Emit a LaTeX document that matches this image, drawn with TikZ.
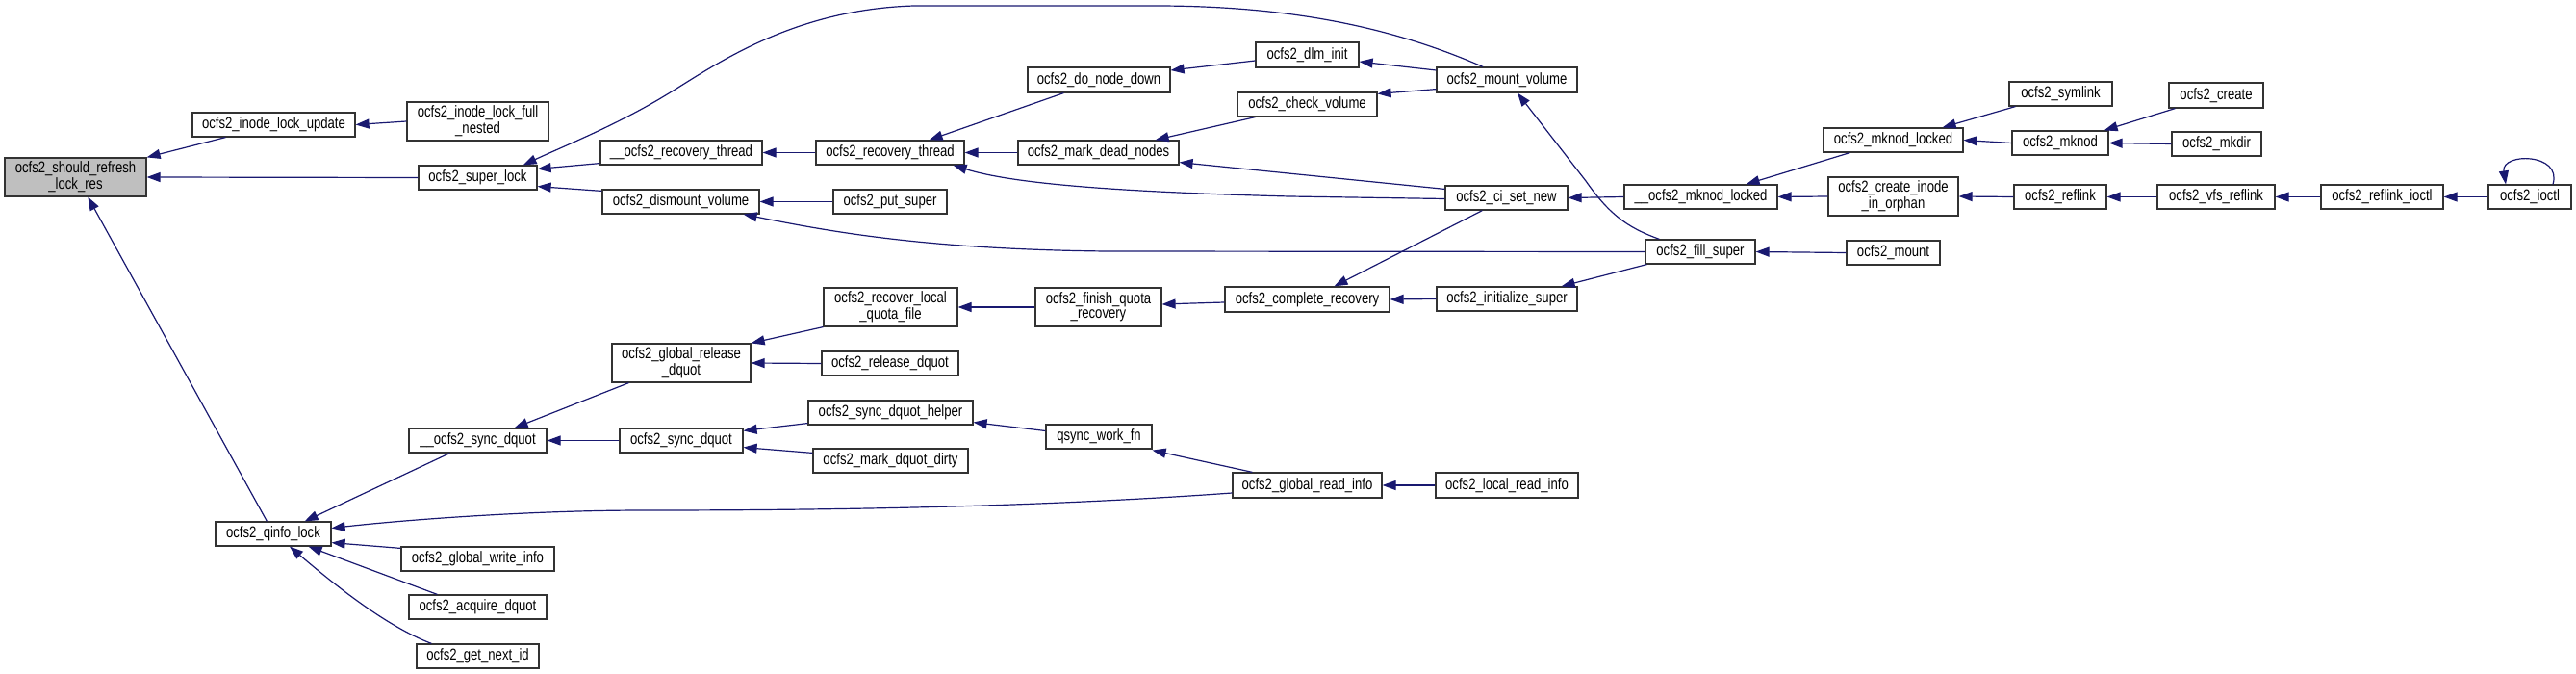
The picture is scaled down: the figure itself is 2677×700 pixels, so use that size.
\documentclass[tikz,border=0pt]{standalone}
\usepackage{fontspec}
\newfontfamily\dfont{Liberation Sans}[FakeStretch=0.8]
\usetikzlibrary{arrows.meta,calc}
\definecolor{edgeblue}{RGB}{25,25,112}
\definecolor{nodegray}{RGB}{191,191,191}
\newcommand\dn[7][]{\node[dbox,#1,minimum width={(#5-#3)*0.5pt},minimum height={(#6-#4)*0.5pt}] (#2) at ({(#3+#5)/2},{(#4+#6)/2}) {#7};}
\tikzset{
  dbox/.style={draw=black!80,line width=0.6pt,fill=white,inner sep=1pt,align=center,
    font=\dfont\fontsize{8.2}{7.5}\selectfont},
  cedge/.style={draw=edgeblue,line width=0.6pt,-{Triangle[length=7pt,width=5pt]}},
}
\begin{document}
\begin{tikzpicture}[x=0.5pt,y=-0.5pt]
\useasboundingbox (0,0) rectangle (2677,700);
% nodes
\dn[fill=nodegray]{shouldref}{5}{164}{152}{204}{ocfs2\_should\_refresh\\\_lock\_res}
\dn{inodeupd}{200}{117}{369}{142}{ocfs2\_inode\_lock\_update}
\dn{fullnested}{423}{106}{570}{146}{ocfs2\_inode\_lock\_full\\\_nested}
\dn{superlock}{435}{172}{558}{197}{ocfs2\_super\_lock}
\dn{urecthread}{624}{146}{792}{171}{\_\_ocfs2\_recovery\_thread}
\dn{dismount}{626}{197}{789}{222}{ocfs2\_dismount\_volume}
\dn{putsuper}{866}{197}{984}{222}{ocfs2\_put\_super}
\dn{recthread}{848}{146}{1002}{171}{ocfs2\_recovery\_thread}
\dn{donodedown}{1068}{70}{1216}{96}{ocfs2\_do\_node\_down}
\dn{markdead}{1058}{146}{1225}{171}{ocfs2\_mark\_dead\_nodes}
\dn{dlminit}{1305}{44}{1412}{70}{ocfs2\_dlm\_init}
\dn{checkvol}{1286}{96}{1431}{121}{ocfs2\_check\_volume}
\dn{mountvol}{1493}{70}{1639}{96}{ocfs2\_mount\_volume}
\dn{cisetnew}{1502}{193}{1629}{218}{ocfs2\_ci\_set\_new}
\dn{umknodlocked}{1688}{192}{1847}{217}{\_\_ocfs2\_mknod\_locked}
\dn{mknodlocked}{1895}{133}{2040}{158}{ocfs2\_mknod\_locked}
\dn{createorphan}{1900}{184}{2035}{224}{ocfs2\_create\_inode\\\_in\_orphan}
\dn{fillsuper}{1710}{249}{1824}{274}{ocfs2\_fill\_super}
\dn{mount}{1919}{250}{2016}{275}{ocfs2\_mount}
\dn{symlink}{2088}{85}{2195}{110}{ocfs2\_symlink}
\dn{mknod}{2091}{136}{2191}{161}{ocfs2\_mknod}
\dn{create}{2254}{86}{2352}{112}{ocfs2\_create}
\dn{mkdir}{2257}{137}{2350}{162}{ocfs2\_mkdir}
\dn{reflink}{2093}{192}{2189}{217}{ocfs2\_reflink}
\dn{vfsreflink}{2242}{192}{2364}{217}{ocfs2\_vfs\_reflink}
\dn{reflinkioctl}{2412}{192}{2539}{217}{ocfs2\_reflink\_ioctl}
\dn{ioctl}{2586}{192}{2672}{217}{ocfs2\_ioctl}
\dn{completerec}{1273}{298}{1444}{324}{ocfs2\_complete\_recovery}
\dn{initsuper}{1493}{298}{1639}{323}{ocfs2\_initialize\_super}
\dn{recoverlocal}{856}{299}{995}{339}{ocfs2\_recover\_local\\\_quota\_file}
\dn{finishquota}{1076}{299}{1207}{339}{ocfs2\_finish\_quota\\\_recovery}
\dn{qinfolock}{224}{542}{344}{567}{ocfs2\_qinfo\_lock}
\dn{usyncdquot}{425}{445}{568}{470}{\_\_ocfs2\_sync\_dquot}
\dn{globalrelease}{636}{357}{780}{397}{ocfs2\_global\_release\\\_dquot}
\dn{syncdquot}{644}{445}{772}{470}{ocfs2\_sync\_dquot}
\dn{globalwrite}{417}{568}{576}{593}{ocfs2\_global\_write\_info}
\dn{acquire}{425}{618}{568}{643}{ocfs2\_acquire\_dquot}
\dn{getnextid}{433}{669}{560}{694}{ocfs2\_get\_next\_id}
\dn{releasedquot}{854}{365}{996}{390}{ocfs2\_release\_dquot}
\dn{synchelper}{840}{416}{1011}{441}{ocfs2\_sync\_dquot\_helper}
\dn{markdirty}{845}{466}{1006}{491}{ocfs2\_mark\_dquot\_dirty}
\dn{qsync}{1087}{441}{1197}{466}{qsync\_work\_fn}
\dn{globalread}{1281}{491}{1436}{517}{ocfs2\_global\_read\_info}
\dn{localread}{1492}{491}{1640}{517}{ocfs2\_local\_read\_info}
% edges
\draw[cedge] ($(inodeupd.south west)+(35,0)$) -- (shouldref.north east);
\draw[cedge] (fullnested.west) -- (inodeupd.east);
\draw[cedge] (superlock.west) -- (shouldref.east);
\draw[cedge] ($(qinfolock.north west)+(54,0)$) -- ($(shouldref.south west)+(87,0)$);
\draw[cedge] ($(urecthread.south west)+(0,-2)$) -- ($(superlock.north east)+(0,4)$);
\draw[cedge] ($(dismount.north west)+(0,2)$) -- ($(superlock.south east)+(0,-4)$);
\draw[cedge] ($(mountvol.north)+(-25,0)$) .. controls (1440,25) and (1330,6) .. (1200,6) -- (950,6) .. controls (820,10) and (740,70) .. (690,100) .. controls (640,130) and (590,150) .. ($(superlock.north east)+(-15,0)$);
\draw[cedge] (recthread.west) -- (urecthread.east);
\draw[cedge] ($(donodedown.south west)+(38,0)$) -- ($(recthread.north east)+(-37,0)$);
\draw[cedge] (markdead.west) -- (recthread.east);
\draw[cedge] ($(cisetnew.west)+(0,1)$) -- (1340,204) .. controls (1150,199) and (1050,190) .. ($(recthread.south east)+(-12,0)$);
\draw[cedge] (putsuper.west) -- (dismount.east);
\draw[cedge] (fillsuper.west) -- (1150,261) .. controls (960,259) and (860,240) .. ($(dismount.south east)+(-17,0)$);
\draw[cedge] ($(dlminit.west)+(0,6)$) -- ($(donodedown.east)+(0,-10)$);
\draw[cedge] ($(mountvol.west)+(0,-10)$) -- ($(dlminit.east)+(0,7)$);
\draw[cedge] ($(checkvol.south west)+(19,0)$) -- ($(markdead.north east)+(-25,0)$);
\draw[cedge] ($(cisetnew.north west)+(0,4)$) -- ($(markdead.south east)+(0,-3)$);
\draw[cedge] ($(mountvol.south west)+(0,-4)$) -- ($(checkvol.north east)+(0,2)$);
\draw[cedge] ($(fillsuper.north west)+(15,0)$) .. controls (1690,236) and (1672,222) .. (1648,188) -- ($(mountvol.south)+(11,0)$);
\draw[cedge] (umknodlocked.west) -- (cisetnew.east);
\draw[cedge] ($(cisetnew.south west)+(39,0)$) -- ($(completerec.north west)+(114,0)$);
\draw[cedge] ($(mknodlocked.south west)+(28,0)$) -- ($(umknodlocked.north east)+(-33,0)$);
\draw[cedge] (createorphan.west) -- (umknodlocked.east);
\draw[cedge] ($(symlink.south west)+(7,0)$) -- ($(mknodlocked.north east)+(-22,0)$);
\draw[cedge] (mknod.west) -- (mknodlocked.east);
\draw[cedge] ($(create.south west)+(7,0)$) -- ($(mknod.north east)+(-5,0)$);
\draw[cedge] (mkdir.west) -- (mknod.east);
\draw[cedge] (reflink.west) -- (createorphan.east);
\draw[cedge] (vfsreflink.west) -- (reflink.east);
\draw[cedge] (reflinkioctl.west) -- (vfsreflink.east);
\draw[cedge] (ioctl.west) -- (reflinkioctl.east);
\draw[cedge] ($(ioctl.north)+(24,0)$) .. controls +(10,-33) and +(-5,-33) .. ($(ioctl.north)+(-25,0)$);
\draw[cedge] (mount.west) -- (fillsuper.east);
\draw[cedge] (initsuper.west) -- (completerec.east);
\draw[cedge] ($(fillsuper.south west)+(2,0)$) -- ($(initsuper.north east)+(-17,0)$);
\draw[cedge] ($(completerec.west)+(0,3)$) -- ($(finishquota.east)+(0,-3)$);
\draw[cedge] (finishquota.west) -- (recoverlocal.east);
\draw[cedge] (recoverlocal.south west) -- (globalrelease.north east);
\draw[cedge] ($(globalrelease.south west)+(18,0)$) -- ($(usyncdquot.north east)+(-34,0)$);
\draw[cedge] (releasedquot.west) -- (globalrelease.east);
\draw[cedge] (syncdquot.west) -- (usyncdquot.east);
\draw[cedge] ($(synchelper.south west)+(0,-2)$) -- ($(syncdquot.north east)+(0,3)$);
\draw[cedge] ($(markdirty.north west)+(0,5)$) -- ($(syncdquot.south east)+(0,-6)$);
\draw[cedge] ($(qsync.west)+(0,-6)$) -- ($(synchelper.south east)+(0,-3)$);
\draw[cedge] ($(globalread.north west)+(21,0)$) -- ($(qsync.south east)+(0,1)$);
\draw[cedge] ($(globalread.west)+(0,8)$) .. controls (1100,525) and (900,530) .. (670,530) .. controls (550,530) and (420,540) .. ($(qinfolock.east)+(0,-6)$);
\draw[cedge] (localread.west) -- (globalread.east);
\draw[cedge] ($(usyncdquot.south west)+(43,0)$) -- ($(qinfolock.north east)+(-28,0)$);
\draw[cedge] ($(globalwrite.north west)+(0,2)$) -- ($(qinfolock.south east)+(0,-4)$);
\draw[cedge] ($(acquire.north west)+(30,0)$) -- ($(qinfolock.south east)+(-24,0)$);
\draw[cedge] ($(getnextid.north west)+(16,0)$) .. controls (400,650) and (345,605) .. ($(qinfolock.south)+(17,0)$);
\end{tikzpicture}
\end{document}
